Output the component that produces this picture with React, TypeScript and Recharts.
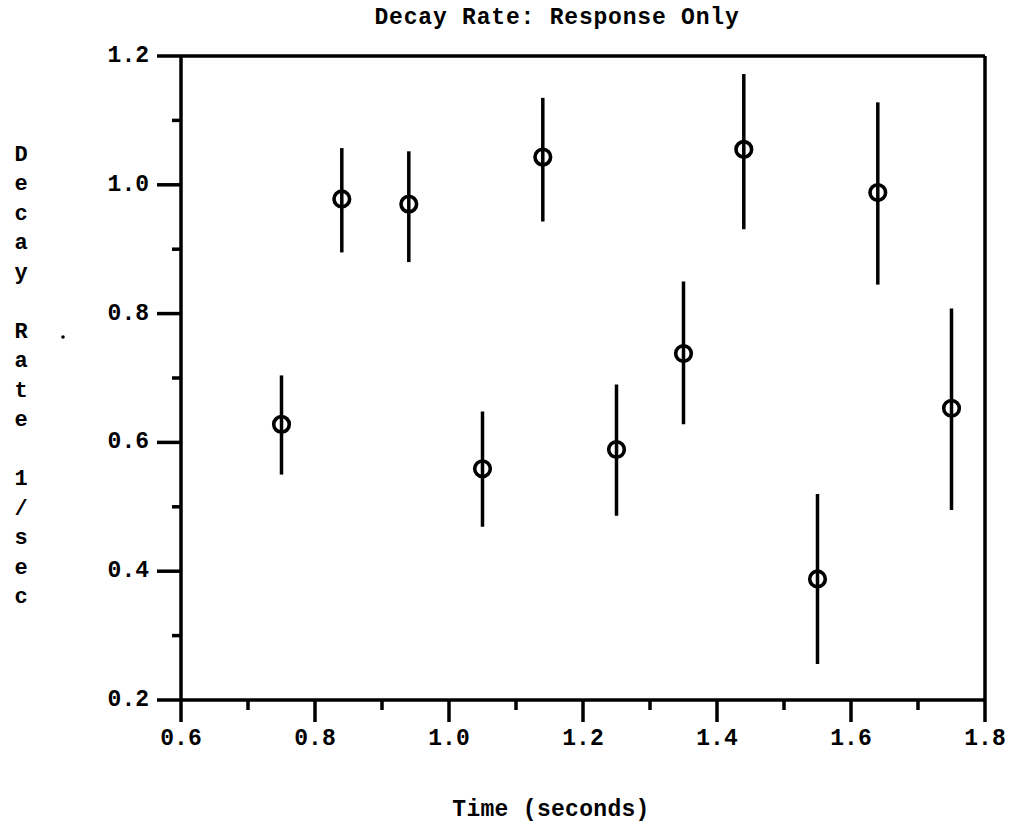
import { ScatterChart, Scatter, XAxis, YAxis, ErrorBar, ReferenceLine, Customized } from "recharts";

// time (seconds) of each measurement
const times = [0.75, 0.84, 0.94, 1.05, 1.14, 1.25, 1.35, 1.44, 1.55, 1.64, 1.75];
// decay rate (1/sec)
const rates = [0.628, 0.978, 0.970, 0.559, 1.043, 0.589, 0.738, 1.055, 0.388, 0.988, 0.653];
// lower / upper ends of the error bars
const lows = [0.550, 0.895, 0.880, 0.469, 0.943, 0.486, 0.628, 0.931, 0.256, 0.845, 0.495];
const highs = [0.704, 1.057, 1.052, 0.648, 1.135, 0.690, 0.850, 1.172, 0.520, 1.128, 0.808];

const xTicks = [0.6, 0.7, 0.8, 0.9, 1.0, 1.1, 1.2, 1.3, 1.4, 1.5, 1.6, 1.7, 1.8];
const yTicks = [0.2, 0.3, 0.4, 0.5, 0.6, 0.7, 0.8, 0.9, 1.0, 1.1, 1.2];

const title = "Decay Rate: Response Only";
const xLabel = "Time (seconds)";
const yLabel = "Decay Rate 1/sec";

const FONT = "'Courier New', 'Liberation Mono', monospace";
const LINE = 3.5;

const data = times.map((t, i) => ({
    t,
    rate: rates[i],
    err: [rates[i] - lows[i], highs[i] - rates[i]],
}));

const isMajor = (v: number) => Math.round(v * 10) % 2 === 0;

const XTick = (props: any) => {
    const { x, y, payload } = props;
    const major = isMajor(payload.value);
    return (
        <g>
            <line x1={x} x2={x} y1={y} y2={y + (major ? 22 : 10)} stroke="#000" strokeWidth={LINE} />
            {major && (
                <text x={x} y={y + 39} textAnchor="middle" dominantBaseline="central"
                    fontFamily={FONT} fontWeight="bold" fontSize={23} fill="#000">
                    {payload.value.toFixed(1)}
                </text>
            )}
        </g>
    );
};

const YTick = (props: any) => {
    const { x, y, payload } = props;
    const major = isMajor(payload.value);
    return (
        <g>
            <line x1={x} x2={x - (major ? 24 : 9)} y1={y} y2={y} stroke="#000" strokeWidth={LINE} />
            {major && (
                <text x={x - 32} y={y} textAnchor="end" dominantBaseline="central"
                    fontFamily={FONT} fontWeight="bold" fontSize={23} fill="#000">
                    {payload.value.toFixed(1)}
                </text>
            )}
        </g>
    );
};

const RingDot = (props: any) => {
    const { cx, cy } = props;
    return <circle cx={cx} cy={cy} r={7.8} fill="none" stroke="#000" strokeWidth={3.6} />;
};

const Labels = () => (
    <g fontFamily={FONT} fontWeight="bold" fill="#000">
        <text x={557} y={18} textAnchor="middle" dominantBaseline="central" fontSize={23} letterSpacing={0.8}>{title}</text>
        <text x={551} y={810} textAnchor="middle" dominantBaseline="central" fontSize={23} letterSpacing={0.3}>{xLabel}</text>
        {yLabel.split("").map((ch, i) => (
            <text key={i} x={21} y={155 + i * 29.5} textAnchor="middle" dominantBaseline="central" fontSize={22}>
                {ch}
            </text>
        ))}
        <circle cx={63} cy={337} r={1.8} fill="#000" />
    </g>
);

export default function App() {
    return (
        <div style={{ position: "absolute", left: 0, top: 0, background: "#fff" }}>
            <ScatterChart width={1017} height={832} margin={{ top: 56, right: 32, bottom: 0, left: 0 }}>
                <XAxis
                    dataKey="t"
                    type="number"
                    domain={[0.6, 1.8]}
                    ticks={xTicks}
                    interval={0}
                    height={132}
                    tickSize={0}
                    tickMargin={0}
                    tickLine={false}
                    tick={<XTick />}
                    axisLine={{ stroke: "#000", strokeWidth: LINE }}
                    allowDataOverflow
                />
                <YAxis
                    dataKey="rate"
                    type="number"
                    domain={[0.2, 1.2]}
                    ticks={yTicks}
                    interval={0}
                    width={181}
                    tickSize={0}
                    tickMargin={0}
                    tickLine={false}
                    tick={<YTick />}
                    axisLine={{ stroke: "#000", strokeWidth: LINE }}
                    allowDataOverflow
                />
                <ReferenceLine y={1.2} stroke="#000" strokeWidth={LINE} />
                <ReferenceLine x={1.8} stroke="#000" strokeWidth={LINE} />
                <Scatter data={data} shape={<RingDot />} isAnimationActive={false}>
                    <ErrorBar dataKey="err" direction="y" width={0} stroke="#000" strokeWidth={LINE} isAnimationActive={false} />
                </Scatter>
                <Customized component={Labels} />
            </ScatterChart>
        </div>
    );
}
